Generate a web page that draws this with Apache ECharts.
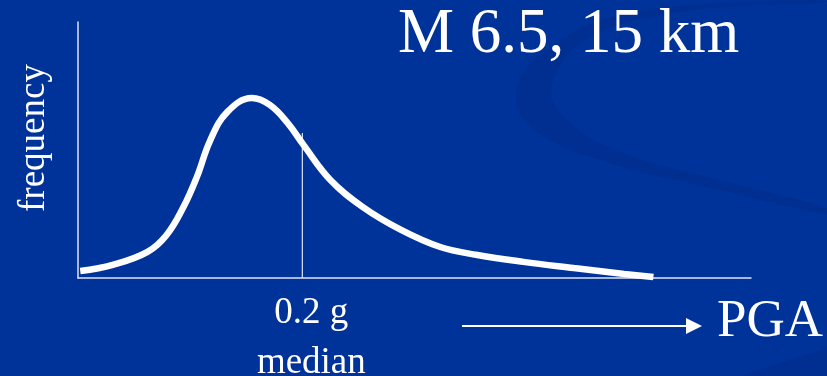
<!DOCTYPE html>
<html>
<head>
<meta charset="utf-8">
<script src="https://cdn.jsdelivr.net/npm/echarts@6/dist/echarts.min.js"></script>
<style>
  html, body { margin: 0; padding: 0; background: #003399; }
  #chart { width: 827px; height: 376px; }
</style>
</head>
<body>
<div id="chart"></div>
<script>
// PGA (g) sampled along the distribution curve
const pga = [0.002, 0.031, 0.062, 0.079, 0.094, 0.106, 0.118, 0.133, 0.155, 0.171, 0.187, 0.201,
             0.225, 0.254, 0.288, 0.323, 0.356, 0.397, 0.442, 0.487, 0.513];
// relative frequency at each PGA sample
const frequency = [0.027, 0.051, 0.102, 0.168, 0.277, 0.395, 0.539, 0.648, 0.703, 0.676, 0.605, 0.520,
                   0.383, 0.277, 0.188, 0.121, 0.090, 0.063, 0.039, 0.016, 0.004];
const MEDIAN = 0.2;           // median PGA, g
const MEDIAN_TOP = 0.566;     // height of the median marker line
const scenario = 'M 6.5, 15 km';

const serif = '"Liberation Serif", "DejaVu Serif", serif';
const ink = '#ffffff';
const axisInk = '#dfe4f2';

const chart = echarts.init(document.getElementById('chart'));
chart.setOption({
  backgroundColor: '#003399',
  animation: false,
  grid: { left: 78, right: 76, top: 22, bottom: 98, outerBoundsMode: 'none', containLabel: false },
  xAxis: {
    type: 'value', min: 0, max: 0.6,
    axisLine: { show: true, lineStyle: { color: axisInk, width: 1.5 } },
    axisTick: { show: false },
    splitLine: { show: false },
    axisLabel: {
      customValues: [MEDIAN],
      formatter: v => v + ' g\nmedian',
      color: ink, fontFamily: serif, fontSize: 37, lineHeight: 50,
      margin: 10, padding: [0, 0, 0, 18]
    }
  },
  yAxis: {
    type: 'value', min: 0, max: 1,
    axisLine: { show: true, lineStyle: { color: axisInk, width: 1.5 } },
    axisTick: { show: false },
    axisLabel: { show: false },
    splitLine: { show: false }
  },
  series: [
    {
      type: 'line',
      data: pga.map((x, i) => [x, frequency[i]]),
      smooth: 0.4,
      showSymbol: false,
      lineStyle: { color: ink, width: 6.5, cap: 'butt' },
      z: 3
    },
    {
      type: 'line',
      data: [[MEDIAN, 0], [MEDIAN, MEDIAN_TOP]],
      showSymbol: false,
      lineStyle: { color: axisInk, width: 1.2 },
      z: 2
    }
  ],
  graphic: [
    // background swoosh
    {
      type: 'polygon', z: -10, silent: true,
      shape: {
        smooth: 0.4,
        points: [[790, 0], [620, 15], [540, 55], [516, 95], [535, 130], [600, 160], [720, 190], [827, 214],
                 [827, 208], [720, 180], [620, 152], [565, 118], [552, 85], [585, 40], [680, 12], [827, 2]]
      },
      style: { fill: 'rgba(0, 25, 110, 0.18)' }
    },
    {
      type: 'polygon', z: -10, silent: true,
      shape: { points: [[740, 376], [827, 348], [827, 376]] },
      style: { fill: 'rgba(0, 25, 110, 0.18)' }
    },
    {
      type: 'text', left: 398, top: 4,
      style: { text: scenario, fill: ink, font: '63px ' + serif }
    },
    {
      type: 'text', rotation: Math.PI / 2, x: 16, y: 212,
      style: { text: 'frequency', fill: ink, font: '37px ' + serif, textVerticalAlign: 'top' }
    },
    {
      type: 'line', shape: { x1: 462, y1: 326, x2: 690, y2: 326 },
      style: { stroke: ink, lineWidth: 2 }
    },
    {
      type: 'polygon', shape: { points: [[686, 318], [702, 326], [686, 334]] },
      style: { fill: ink }
    },
    {
      type: 'text', left: 717, top: 296,
      style: { text: 'PGA', fill: ink, font: '53px ' + serif }
    }
  ]
});
</script>
</body>
</html>
